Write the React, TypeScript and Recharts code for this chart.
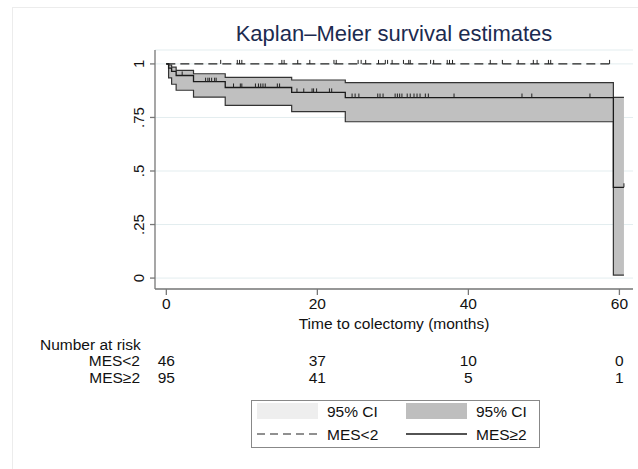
import React from "react";
import { ComposedChart, Area, Line, Scatter, XAxis, YAxis, CartesianGrid } from "recharts";

// MES>=2 group: Kaplan-Meier step estimate with 95% CI
const hiTimes = [0, 0.3, 0.7, 1.3, 3.6, 7.8, 16.6, 23.7, 59.2, 60.6];
const hiSurv = [1, 0.98, 0.965, 0.946, 0.917, 0.89, 0.867, 0.843, 0.424, 0.424];
const hiLower = [1, 0.935, 0.905, 0.877, 0.845, 0.806, 0.777, 0.73, 0.014, 0.014];
const hiUpper = [1, 0.995, 0.985, 0.97, 0.954, 0.937, 0.925, 0.913, 0.844, 0.844];
const hiCensor = [
  2.1, 5.2, 5.5, 5.7, 6.0, 6.4, 6.6, 8.9, 9.8, 10.0, 11.8, 12.2, 12.5, 12.8, 13.1, 14.7, 15.0,
  17.3, 18.2, 19.3, 19.5, 19.9, 21.6, 21.9, 24.6, 25.0, 25.5, 28.0, 28.3, 28.7, 30.3, 30.6, 30.9,
  31.2, 31.9, 32.3, 32.8, 33.2, 33.6, 34.3, 34.7, 38.1, 47.1, 48.4, 56.1, 60.6,
];

// MES<2 group: no events
const lowTimes = [0, 58.7];
const lowSurv = [1, 1];
const lowCensor = [
  7.2, 9.4, 9.7, 10.0, 15.3, 15.6, 17.4, 19.0, 22.2, 22.5, 25.4, 25.8, 26.4, 28.1, 29.0, 29.3, 29.9,
  31.4, 32.1, 32.3, 35.0, 35.4, 37.2, 37.5, 37.9, 42.9, 44.5, 46.6, 48.6, 49.1, 50.6, 50.9, 58.7,
];

// axes
const xTicks = [0, 20, 40, 60];
const yTicks = [0, 0.25, 0.5, 0.75, 1];
const yTickLabels = ["0", ".25", ".5", ".75", "1"];

// number at risk table
const riskTimes = [0, 20, 40, 60];
const riskLow = [46, 37, 10, 0];
const riskHigh = [95, 41, 5, 1];

const FONT = "'Liberation Sans', Arial, Helvetica, sans-serif";
const TXT = "#111";

const hiData = hiTimes.map((t, i) => ({
  t,
  s: hiSurv[i],
  lo: hiLower[i],
  up: hiUpper[i],
  ci: [hiLower[i], hiUpper[i]],
}));
const lowData = lowTimes.map((t, i) => ({ t, s: lowSurv[i] }));

const stepValue = (t: number) => {
  let v = hiSurv[0];
  for (let i = 0; i < hiTimes.length; i++) if (hiTimes[i] <= t) v = hiSurv[i];
  return v;
};
const hiCensorData = hiCensor.map((t) => ({ t, s: stepValue(t) }));
const lowCensorData = lowCensor.map((t) => ({ t, s: 1 }));

const CensorTick = (props: any) => {
  const { cx, cy } = props;
  if (cx == null || cy == null) return null;
  return <line x1={cx} y1={cy} x2={cx} y2={cy - 4} stroke="#222" strokeWidth={1} />;
};

const XTick = (props: any) => {
  const { x, y, payload } = props;
  const i = riskTimes.indexOf(payload.value);
  return (
    <g fontFamily={FONT} fontSize={15.5} fill={TXT}>
      <text x={x} y={y + 11.5} textAnchor="middle" fill={TXT}>
        {payload.value}
      </text>
      {i >= 0 && (
        <text x={x} y={y + 68.5} textAnchor="middle" fill={TXT}>
          {riskLow[i]}
        </text>
      )}
      {i >= 0 && (
        <text x={x} y={y + 85.5} textAnchor="middle" fill={TXT}>
          {riskHigh[i]}
        </text>
      )}
    </g>
  );
};

const YTick = (props: any) => {
  const { x, y, payload } = props;
  const i = yTicks.indexOf(payload.value);
  return (
    <text
      x={x}
      y={y}
      transform={`rotate(-90 ${x} ${y})`}
      textAnchor="middle"
      fontFamily={FONT}
      fontSize={15}
      fill={TXT}
    >
      {yTickLabels[i]}
    </text>
  );
};

export default function App() {
  return (
    <div style={{ position: "absolute", left: 0, top: 0, width: 638, height: 469, background: "#fff", overflow: "hidden" }}>
      <div style={{ position: "absolute", left: 12, top: 7, width: 640, height: 480, border: "1px solid #ececec" }} />
      <ComposedChart
        width={638}
        height={469}
        margin={{ top: 50, right: 5, left: 105, bottom: 80 }}
        style={{ position: "absolute", left: 0, top: 0 }}
      >
        <CartesianGrid vertical={false} stroke="#e3edef" strokeWidth={1} />
        <XAxis
          dataKey="t"
          type="number"
          domain={[-1.5, 61.8]}
          ticks={xTicks}
          height={100}
          tickSize={6}
          tickMargin={2}
          tick={<XTick />}
          stroke="#777"
          strokeWidth={1.3}
          allowDataOverflow
          label={{
            value: "Time to colectomy (months)",
            position: "insideBottom",
            offset: 60,
            fill: TXT,
            fontSize: 15.5,
            fontFamily: FONT,
          }}
        />
        <YAxis
          type="number"
          domain={[-0.051, 1.065]}
          ticks={yTicks}
          width={50}
          tickSize={5}
          tickMargin={6}
          tick={<YTick />}
          stroke="#777"
          strokeWidth={1.3}
          allowDataOverflow
        />
        <Area
          data={hiData}
          dataKey="ci"
          type="stepAfter"
          stroke="none"
          fill="#c0c0c0"
          fillOpacity={1}
          isAnimationActive={false}
        />
        <Line data={hiData} dataKey="up" type="stepAfter" stroke="#333" strokeWidth={1.2} dot={false} isAnimationActive={false} />
        <Line data={hiData} dataKey="lo" type="stepAfter" stroke="#333" strokeWidth={1.2} dot={false} isAnimationActive={false} />
        <Line data={hiData} dataKey="s" type="stepAfter" stroke="#1a1a1a" strokeWidth={1.3} dot={false} isAnimationActive={false} />
        <Line
          data={lowData}
          dataKey="s"
          type="stepAfter"
          stroke="#222"
          strokeWidth={1.2}
          strokeDasharray="9 5"
          dot={false}
          isAnimationActive={false}
        />
        <Scatter data={hiCensorData} dataKey="s" shape={<CensorTick />} isAnimationActive={false} />
        <Scatter data={lowCensorData} dataKey="s" shape={<CensorTick />} isAnimationActive={false} />
      </ComposedChart>
      <svg
        width={638}
        height={469}
        style={{ position: "absolute", left: 0, top: 0, pointerEvents: "none" }}
        fontFamily={FONT}
      >
        <text x={394} y={41} textAnchor="middle" fontSize={22} fill="#1c2b50">
          Kaplan–Meier survival estimates
        </text>
        <text x={40} y={349.5} fontSize={15.5} fill={TXT}>
          Number at risk
        </text>
        <text x={140} y={365.5} textAnchor="end" fontSize={15.5} fill={TXT}>
          MES&lt;2
        </text>
        <text x={140} y={382.5} textAnchor="end" fontSize={15.5} fill={TXT}>
          MES≥2
        </text>
        <rect x={251.5} y={400.5} width={288} height={47} fill="#fff" stroke="#888" strokeWidth={1} />
        <rect x={257} y={403} width={61} height={16} fill="#eeeeee" />
        <text x={327} y={416.5} fontSize={15.5} fill={TXT}>
          95% CI
        </text>
        <rect x={406} y={403} width={61} height={16} fill="#bebebe" />
        <text x={476} y={416.5} fontSize={15.5} fill={TXT}>
          95% CI
        </text>
        <line x1={257} y1={434} x2={318} y2={434} stroke="#222" strokeWidth={1.2} strokeDasharray="8 5" />
        <text x={327} y={439.5} fontSize={15.5} fill={TXT}>
          MES&lt;2
        </text>
        <line x1={406} y1={434} x2={467} y2={434} stroke="#1a1a1a" strokeWidth={1.3} />
        <text x={476} y={439.5} fontSize={15.5} fill={TXT}>
          MES≥2
        </text>
      </svg>
    </div>
  );
}
